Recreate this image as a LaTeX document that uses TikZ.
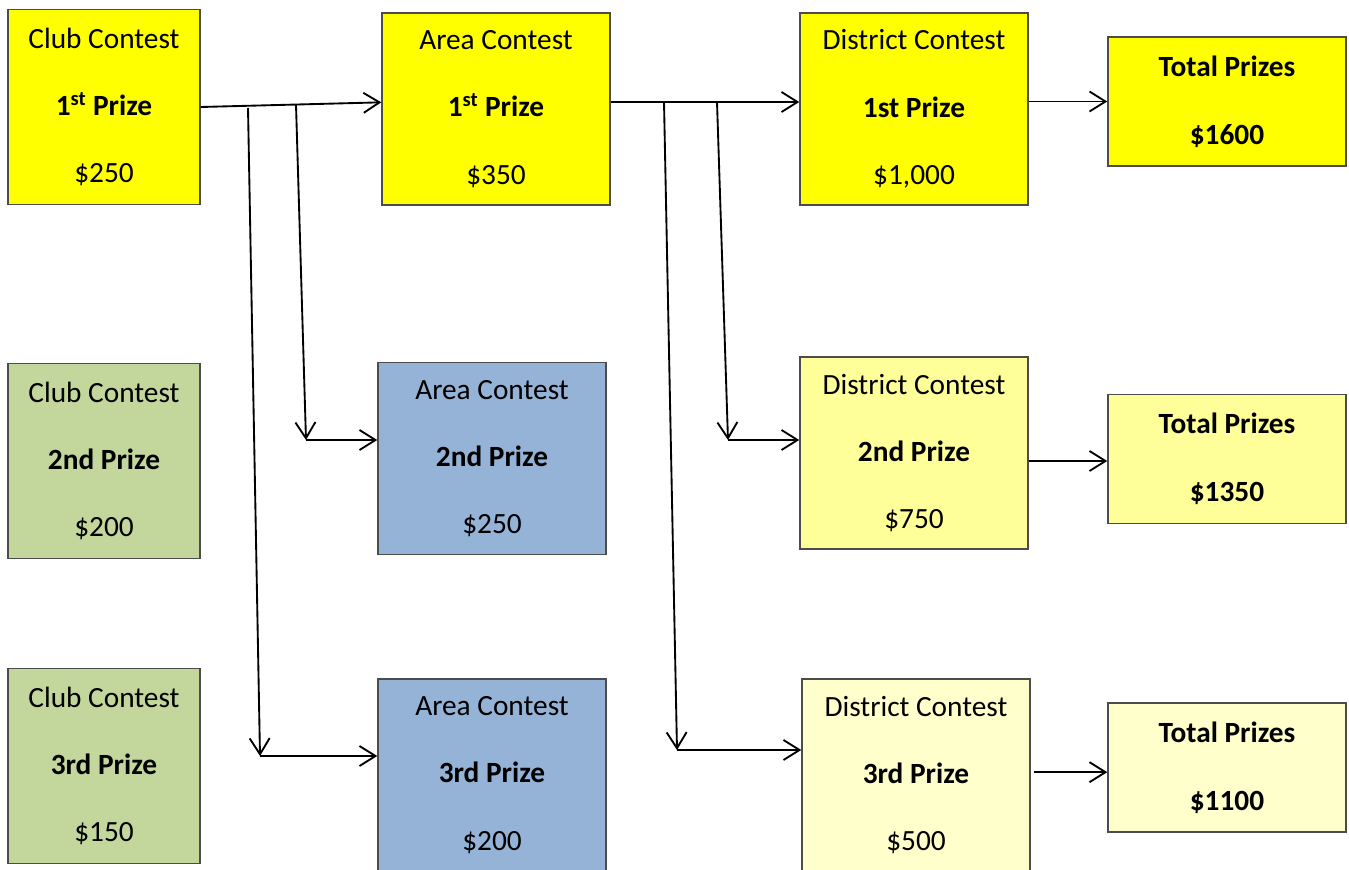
\documentclass[tikz,border=0pt]{standalone}
\usepackage{fontspec}
\setmainfont{Carlito}
\usepackage{xcolor}
\usetikzlibrary{arrows.meta}

\definecolor{prizegold}{HTML}{FFFF00}
\definecolor{prizepale}{HTML}{FFFF99}
\definecolor{prizecream}{HTML}{FFFFCC}
\definecolor{clubgreen}{HTML}{C3D69B}
\definecolor{areablue}{HTML}{95B3D7}

\begin{document}
\begin{tikzpicture}[
      x=0.75pt,y=-0.75pt,
      box/.style={draw=black!70,line width=1.1pt,inner sep=0pt,minimum width=171pt,minimum height=144pt,align=center,font=\fontsize{22}{50.5}\selectfont},
      club/.style={box,minimum width=144pt,minimum height=146pt},
      total/.style={box,minimum width=178.5pt,minimum height=97pt,font=\fontsize{22}{51}\selectfont\bfseries},
      link/.style={->,line width=1.4pt},
      >={Straight Barb[length=12pt,width=15pt]}
    ]
      \useasboundingbox (0,0) rectangle (1349,870);

      % Club contests
      \node[club,fill=prizegold] (club1) at (104,107) {Club Contest\\ \textbf{1\textsuperscript{st} Prize}\\ \$250};
      \node[club,fill=clubgreen] (club2) at (104,461) {Club Contest\\ \textbf{2nd Prize}\\ \$200};
      \node[club,fill=clubgreen] (club3) at (104,766) {Club Contest\\ \textbf{3rd Prize}\\ \$150};

      % Area contests
      \node[box,fill=prizegold] (area1) at (496,109) {Area Contest\\ \textbf{1\textsuperscript{st} Prize}\\ \$350};
      \node[box,fill=areablue] (area2) at (492,458.5) {Area Contest\\ \textbf{2nd Prize}\\ \$250};
      \node[box,fill=areablue] (area3) at (492,775) {Area Contest\\ \textbf{3rd Prize}\\ \$200};

      % District contests
      \node[box,fill=prizegold] (dist1) at (914,109) {District Contest\\ \textbf{1st Prize}\\ \$1,000};
      \node[box,fill=prizepale] (dist2) at (914,453) {District Contest\\ \textbf{2nd Prize}\\ \$750};
      \node[box,fill=prizecream] (dist3) at (916,775) {District Contest\\ \textbf{3rd Prize}\\ \$500};

      % Totals
      \node[total,fill=prizegold] (tot1) at (1227,101.5) {Total Prizes\\ \$1600};
      \node[total,fill=prizepale] (tot2) at (1227,459) {Total Prizes\\ \$1350};
      \node[total,fill=prizecream] (tot3) at (1227,767.5) {Total Prizes\\ \$1100};

      % Club to area
      \draw[link] (club1.east) -- ([yshift=5pt]area1.west);
      \coordinate (ja) at (248,108);
      \coordinate (jb) at (296,104.5);
      \coordinate (ka) at (260,756);
      \coordinate (kb) at (306,440);
      \draw[link] (ja) -- (ka);
      \draw[link] (ka) -- (ka -| area3.west);
      \draw[link] (jb) -- (kb);
      \draw[link] (kb) -- (kb -| area2.west);

      % Area to district
      \draw[link] ([yshift=5.25pt]area1.east) -- ([yshift=5.25pt]dist1.west);
      \coordinate (jc) at (664,102);
      \coordinate (jd) at (717,102);
      \coordinate (kc) at (677,750);
      \coordinate (kd) at (728,440);
      \draw[link] (jc) -- (kc);
      \draw[link] (kc) -- (kc -| dist3.west);
      \draw[link] (jd) -- (kd);
      \draw[link] (kd) -- (kd -| dist2.west);

      % District to totals
      \draw[link] (tot1.west -| dist1.east) -- (tot1.west);
      \draw[link] ([yshift=-1.5pt]tot2.west -| dist2.east) -- ([yshift=-1.5pt]tot2.west);
      \draw[link] ([yshift=-3.5pt]tot3.west -| dist3.east) ++(3,0) -- ([yshift=-3.5pt]tot3.west);
    \end{tikzpicture}
\end{document}
